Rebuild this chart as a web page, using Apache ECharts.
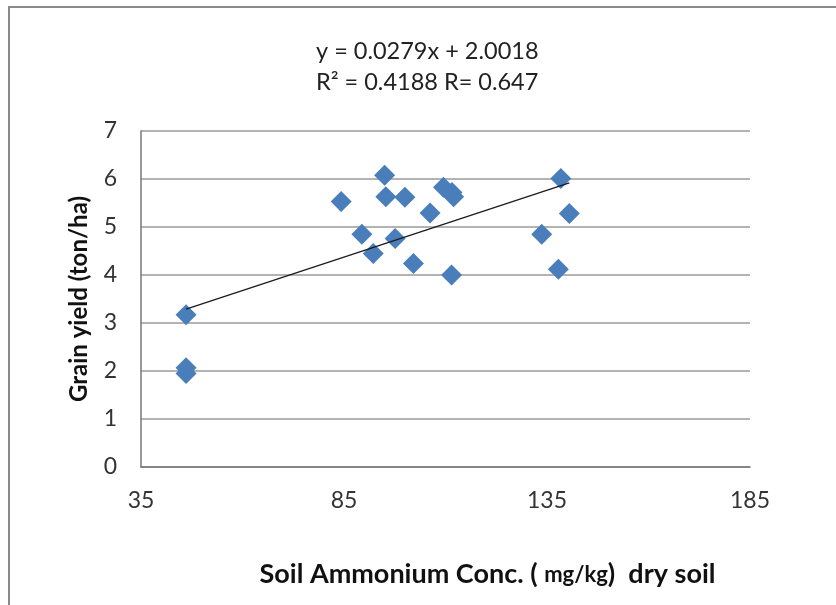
<!DOCTYPE html>
<html>
<head>
<meta charset="utf-8">
<script src="https://cdn.jsdelivr.net/npm/echarts@6/dist/echarts.min.js"></script>
<style>
  html, body { margin: 0; padding: 0; background: #fff; }
  #chart { width: 836px; height: 605px; }
</style>
</head>
<body>
<div id="chart"></div>
<script>
// soil ammonium (mg/kg) vs grain yield (ton/ha)
var ammonium = [95, 84.3, 95.3, 100, 109.5, 111.6, 112, 106.2, 89.4, 97.6,
                92.2, 102.1, 111.5, 138.4, 140.5, 133.7, 137.8, 46.1, 46.1, 46.1];
var grainYield = [6.08, 5.53, 5.63, 5.62, 5.83, 5.72, 5.63, 5.29, 4.85, 4.76,
                  4.45, 4.24, 4.0, 6.01, 5.28, 4.85, 4.12, 3.17, 2.07, 1.95];
// trend line ends
var trendX = [46.1, 140.5];
var trendY = [3.29, 5.92];
var xTicks = [35, 85, 135, 185];
var yTicks = [0, 1, 2, 3, 4, 5, 6, 7];

var points = ammonium.map(function (x, i) { return [x, grainYield[i]]; });
var trend = trendX.map(function (x, i) { return [x, trendY[i]]; });

var chart = echarts.init(document.getElementById('chart'));
chart.setOption({
  animation: false,
  title: {
    text: 'y = 0.0279x + 2.0018\nR² = 0.4188 R= 0.647',
    left: 311,
    top: 31,
    textStyle: {
      fontFamily: 'Lato',
      fontWeight: 'normal',
      fontSize: 23.5,
      lineHeight: 31,
      color: '#222'
    }
  },
  graphic: [{
    type: 'polyline',
    shape: { points: [[836, 7], [9, 7], [9, 605]] },
    style: { stroke: '#8a8a8a', lineWidth: 2, fill: null }
  }],
  grid: { left: 141, top: 131, right: 86, bottom: 138 },
  xAxis: {
    type: 'value',
    min: xTicks[0],
    max: xTicks[xTicks.length - 1],
    interval: 50,
    splitLine: { show: false },
    axisTick: { show: false },
    axisLine: { lineStyle: { color: '#777', width: 1.5 } },
    axisLabel: { fontFamily: 'Lato', fontSize: 23, color: '#333', margin: 22 },
    name: 'Soil Ammonium Conc. ( {s|mg/kg})  dry soil',
    nameLocation: 'middle',
    nameGap: 94,
    nameTextStyle: {
      fontFamily: 'Lato', fontWeight: 'bold', fontSize: 27, color: '#111',
      padding: [0, 0, 0, 84],
      rich: { s: { fontFamily: 'Lato', fontWeight: 'bold', fontSize: 22, color: '#111' } }
    }
  },
  yAxis: {
    type: 'value',
    min: yTicks[0],
    max: yTicks[yTicks.length - 1],
    interval: 1,
    splitLine: { lineStyle: { color: '#9a9a9a', width: 1.5 } },
    axisTick: { show: false },
    axisLine: { show: true, lineStyle: { color: '#777', width: 1.5 } },
    axisLabel: { fontFamily: 'Lato', fontSize: 23, color: '#333', margin: 24 },
    name: 'Grain yield (ton/ha)',
    nameLocation: 'middle',
    nameGap: 50,
    nameTextStyle: { fontFamily: 'Lato', fontWeight: 'bold', fontSize: 24, color: '#111' }
  },
  series: [{
    type: 'scatter',
    data: points,
    symbol: 'diamond',
    symbolSize: 21,
    itemStyle: { color: '#4a7ebb', opacity: 1 }
  }, {
    type: 'line',
    data: trend,
    symbol: 'none',
    lineStyle: { color: '#1a1a1a', width: 1.2 },
    z: 3
  }]
});
</script>
</body>
</html>
